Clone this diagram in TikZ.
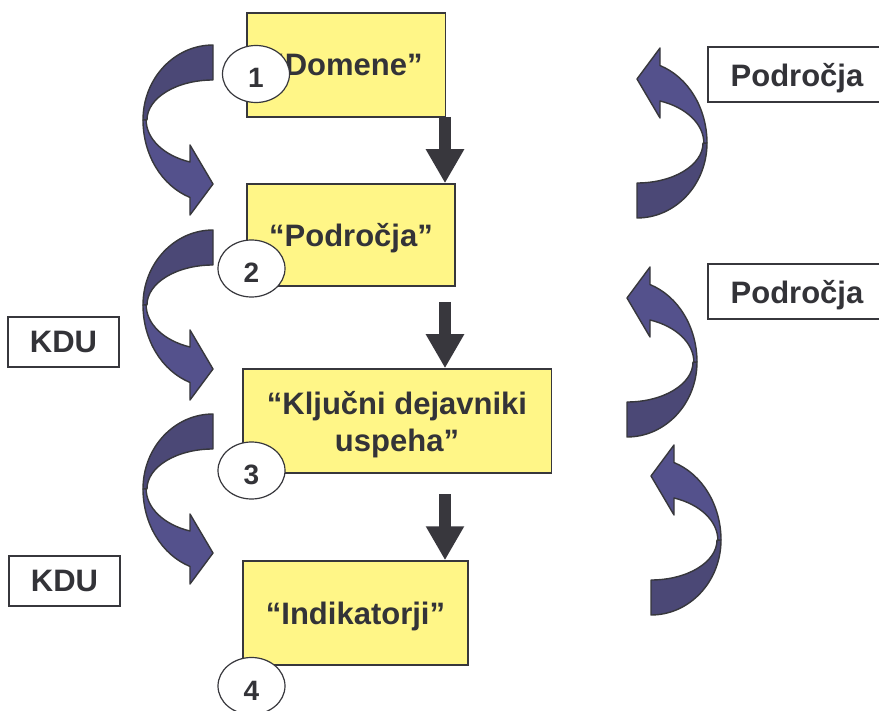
\documentclass[tikz,border=0pt]{standalone}
\usepackage{fontspec}
\setmainfont{Liberation Sans}
\usetikzlibrary{shapes.geometric,arrows.meta}

\definecolor{boxyellow}{RGB}{255,246,135}
\definecolor{linegray}{RGB}{55,55,60}
\definecolor{textgray}{RGB}{51,51,56}
\definecolor{downgray}{RGB}{56,55,61}
\definecolor{arrowdark}{RGB}{75,72,118}
\definecolor{arrowlight}{RGB}{84,81,140}

\tikzset{
  stagebox/.style={draw=linegray, line width=1.5pt, fill=boxyellow, text=textgray,
    font=\fontsize{31}{37}\selectfont\bfseries, align=center, text depth=0pt, inner sep=0pt},
  tagbox/.style={draw=linegray, line width=1.5pt, fill=white, text=textgray,
    font=\fontsize{31}{37}\selectfont\bfseries, minimum height=50pt, text depth=0pt, inner sep=0pt},
  numcirc/.style={ellipse, draw=linegray, line width=1.2pt, fill=white, text=textgray,
    font=\fontsize{28}{32}\selectfont\bfseries, minimum width=67pt, minimum height=57pt,
    text height=28pt, text depth=0pt, inner sep=0pt},
  flowarrow/.style={draw=downgray, line width=12pt, -{Triangle[width=36pt,length=34pt]}},
  bandline/.style={draw=linegray, line width=1.4pt, line join=round}
}

% curved block arrow, tail end at (#1,#2) in pixels, turned by #3
\newcommand{\bendarrow}[3]{%
  \begin{scope}[shift={(#1,-#2)}, rotate=#3]
    \filldraw[bandline, fill=arrowdark] (0,0) -- (0,-35)
      arc[start angle=90, end angle=180, x radius=66, y radius=40]
      -- (-70,-75)
      arc[start angle=180, end angle=90, x radius=70, y radius=75] -- cycle;
    \filldraw[bandline, fill=arrowlight] (-70,-75)
      arc[start angle=180, end angle=250.8, x radius=70, y radius=82]
      -- (-23,-170) -- (0,-139) -- (-23,-100) -- (-23,-117)
      arc[start angle=250.4, end angle=180, x radius=66, y radius=44.8] -- cycle;
  \end{scope}}

\begin{document}
\begin{tikzpicture}[x=1pt, y=1pt]
  \useasboundingbox (0,0) rectangle (879,-711);

  % curved arrows
  \bendarrow{213}{45}{0}
  \bendarrow{213}{230}{0}
  \bendarrow{213}{414}{0}
  \bendarrow{637}{218}{180}
  \bendarrow{627}{437}{180}
  \bendarrow{651}{615}{180}

  % stages
  \node[stagebox, minimum width=198.5pt, minimum height=104pt] (dom) at (346,-65) {“Domene”};
  \node[stagebox, minimum width=208pt, minimum height=102pt] (pod) at (351,-235) {“Področja”};
  \node[stagebox, minimum width=308.5pt, minimum height=104pt] (klj) at (397,-421) {“Ključni dejavniki\\uspeha”};
  \node[stagebox, minimum width=225pt, minimum height=104pt] (ind) at (355.5,-613) {“Indikatorji”};

  % numbers
  \node[numcirc] (n1) at (256,-74) {1};
  \node[numcirc] (n2) at (251.5,-268.5) {2};
  \node[numcirc] (n3) at (251.5,-470.5) {3};
  \node[numcirc] (n4) at (251.5,-686) {4};

  % side labels
  \node[tagbox, minimum width=111pt] (kdu1) at (63.5,-342) {KDU};
  \node[tagbox, minimum width=111pt] (kdu2) at (64.5,-581) {KDU};
  \node[tagbox, minimum width=178pt, minimum height=55pt] (pr1) at (797,-74.5) {Področja};
  \node[tagbox, minimum width=178pt, minimum height=55pt] (pr2) at (797,-291.5) {Področja};

  % flow
  \coordinate (d1) at (445,-117);
  \coordinate (d2) at (445,-302);
  \coordinate (d3) at (445,-494);
  \draw[flowarrow] (d1) -- (d1 |- pod.north);
  \draw[flowarrow] (d2) -- (d2 |- klj.north);
  \draw[flowarrow] (d3) -- (d3 |- ind.north);
\end{tikzpicture}
\end{document}
